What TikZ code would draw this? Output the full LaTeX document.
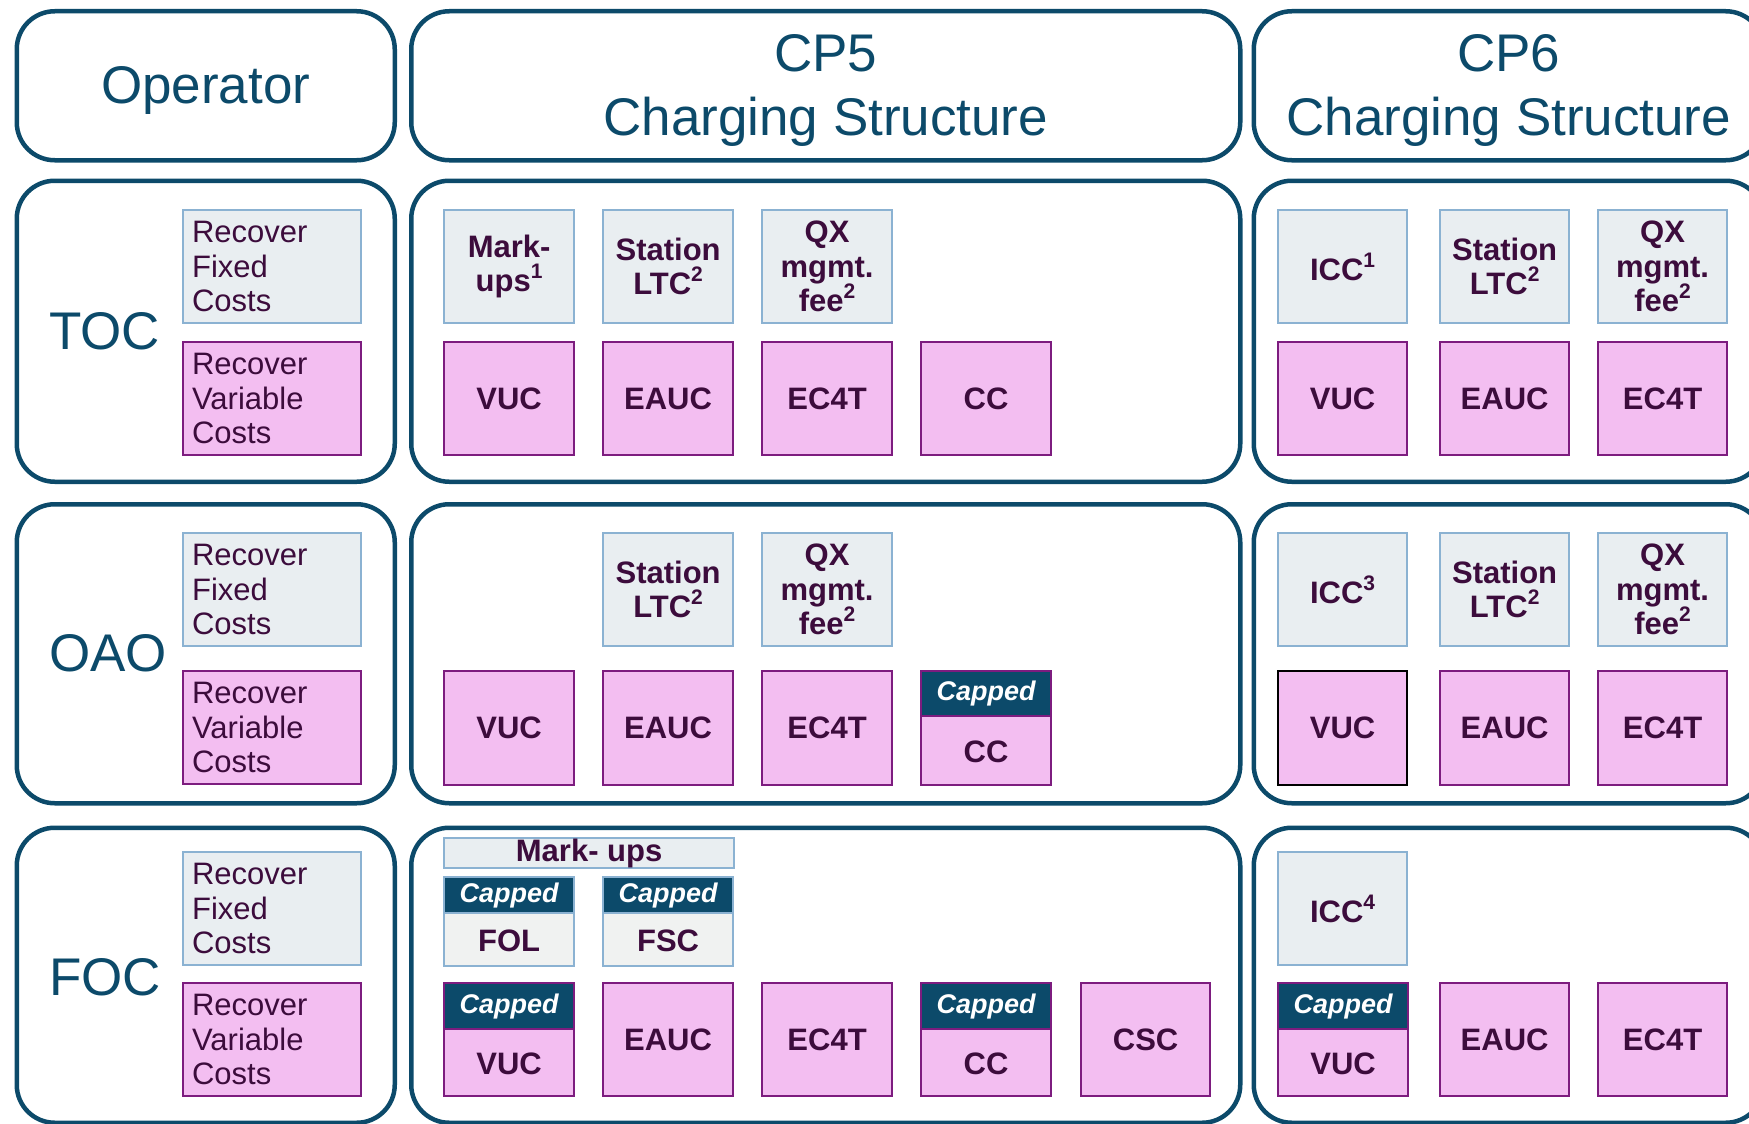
\documentclass[tikz,border=0pt]{standalone}
\usepackage{fontspec}
\setmainfont{Liberation Sans}
\usetikzlibrary{calc}
\definecolor{cteal}{HTML}{0C4A6A}
\definecolor{gfill}{HTML}{E9EEF1}
\definecolor{gline}{HTML}{8BB2D2}
\definecolor{ffill}{HTML}{F0F2F1}
\definecolor{pfill}{HTML}{F3BEF1}
\definecolor{pline}{HTML}{7D1C7F}
\definecolor{ptext}{HTML}{3C0C3C}
\newcommand\hdfont{\fontsize{53}{64}\selectfont}
\newcommand\lblfont{\fontsize{31}{34.6}\selectfont\bfseries}
\newcommand\rcfont{\fontsize{31}{34.6}\selectfont}
\newcommand\capfont{\fontsize{27}{30}\selectfont\bfseries\itshape}
\newcommand\sups[1]{\raisebox{0.42em}{\fontsize{21}{21}\selectfont\bfseries #1}}
\tikzset{
  container/.style 2 args={draw=cteal, line width=4.5pt, rounded corners=38pt, fill=white,
    anchor=north west, inner sep=0pt, minimum width=#1, minimum height=#2},
  hdtext/.style={inner sep=0pt, font=\hdfont, text=cteal, align=center},
  rowlabel/.style={anchor=west, inner sep=0pt, font=\hdfont, text=cteal},
  gbox/.style 2 args={draw=gline, fill=gfill, line width=2.2pt, anchor=north west, inner sep=0pt,
    minimum width=#1, minimum height=#2, align=center, font=\lblfont, text=ptext},
  pbox/.style 2 args={draw=pline, fill=pfill, line width=2.2pt, anchor=north west, inner sep=0pt,
    minimum width=#1, minimum height=#2, align=center, font=\lblfont, text=ptext},
  rfix/.style={draw=gline, fill=gfill, line width=2.2pt, anchor=north west, inner ysep=0pt,
    inner xsep=9pt, text width=160pt, minimum height=113pt, align=left, font=\rcfont, text=ptext},
  rvar/.style={draw=pline, fill=pfill, line width=2.2pt, anchor=north west, inner ysep=0pt,
    inner xsep=9pt, text width=160pt, minimum height=113pt, align=left, font=\rcfont, text=ptext},
  caphead/.style 2 args={draw=#2, fill=cteal, line width=2.2pt, anchor=north west, inner sep=0pt,
    minimum width=130pt, minimum height=#1, font=\capfont, text=white},
  lbl/.style={font=\lblfont, text=ptext, inner sep=0pt, align=center},
}
\begin{document}
\begin{tikzpicture}[x=1pt,y=-1pt]
\useasboundingbox (0,0) rectangle (1749,1124);
\clip (0,0) rectangle (1749,1124);
\fill[white] (0,0) rectangle (1749,1124);

% headers
\node[container={378pt}{149pt}] (hop) at (14.5,9) {};
\node[container={829pt}{149pt}] (hcp5) at (409,9) {};
\node[container={510pt}{149pt}] (hcp6) at (1251.5,9) {};
\node[hdtext] (hoptx) at ([yshift=-5pt]hop.center) {Operator};
\node[hdtext] (hcp5tx) at ([yshift=-5pt]hcp5.center) {CP5\\Charging Structure};
\node[hdtext] (hcp6tx) at ([yshift=-5pt]hcp6.center) {CP6\\Charging Structure};

% row containers
\node[container={378pt}{301pt}] (r1op) at (14.5,178.5) {};
\node[container={829pt}{301pt}] (r1cp5) at (409,178.5) {};
\node[container={510pt}{301pt}] (r1cp6) at (1251.5,178.5) {};
\node[container={378pt}{299pt}] (r2op) at (14.5,502) {};
\node[container={829pt}{299pt}] (r2cp5) at (409,502) {};
\node[container={510pt}{299pt}] (r2cp6) at (1251.5,502) {};
\node[container={378pt}{295pt}] (r3op) at (14.5,825.5) {};
\node[container={829pt}{295pt}] (r3cp5) at (409,825.5) {};
\node[container={510pt}{295pt}] (r3cp6) at (1251.5,825.5) {};

% row labels
\node[rowlabel] (ltoc) at (49,331) {TOC};
\node[rowlabel] (loao) at (49,653) {OAO};
\node[rowlabel] (lfoc) at (49,977) {FOC};

% left column
\node[rfix] (f1) at (182,209) {Recover\\Fixed\\Costs};
\node[rvar] (v1) at (182,341) {Recover\\Variable\\Costs};
\node[rfix] (f2) at (182,532) {Recover\\Fixed\\Costs};
\node[rvar] (v2) at (182,670) {Recover\\Variable\\Costs};
\node[rfix] (f3) at (182,851) {Recover\\Fixed\\Costs};
\node[rvar] (v3) at (182,982) {Recover\\Variable\\Costs};

% ---- TOC row
\node[gbox={130pt}{113pt}] (a1) at (443,209) {Mark-\\ups\sups{1}};
\node[gbox={130pt}{113pt}] (a2) at (602,209) {Station\\LTC\sups{2}};
\node[gbox={130pt}{113pt}] (a3) at (761,209) {QX\\mgmt.\\fee\sups{2}};
\node[pbox={130pt}{113pt}] (a4) at (443,341) {VUC};
\node[pbox={130pt}{113pt}] (a5) at (602,341) {EAUC};
\node[pbox={130pt}{113pt}] (a6) at (761,341) {EC4T};
\node[pbox={130pt}{113pt}] (a7) at (920,341) {CC};
\node[gbox={129pt}{113pt}] (b1) at (1277,209) {ICC\sups{1}};
\node[gbox={129pt}{113pt}] (b2) at (1439,209) {Station\\LTC\sups{2}};
\node[gbox={129pt}{113pt}] (b3) at (1597,209) {QX\\mgmt.\\fee\sups{2}};
\node[pbox={129pt}{113pt}] (b4) at (1277,341) {VUC};
\node[pbox={129pt}{113pt}] (b5) at (1439,341) {EAUC};
\node[pbox={129pt}{113pt}] (b6) at (1597,341) {EC4T};

% ---- OAO row
\node[gbox={130pt}{113pt}] (c2) at (602,532) {Station\\LTC\sups{2}};
\node[gbox={130pt}{113pt}] (c3) at (761,532) {QX\\mgmt.\\fee\sups{2}};
\node[pbox={130pt}{114pt}] (c4) at (443,670) {VUC};
\node[pbox={130pt}{114pt}] (c5) at (602,670) {EAUC};
\node[pbox={130pt}{114pt}] (c6) at (761,670) {EC4T};
\node[pbox={130pt}{114pt}] (c7) at (920,670) {};
\node[caphead={45pt}{pline}] (c7h) at (c7.north west) {Capped};
\node[lbl] (c7t) at ($(c7h.south)!0.5!(c7.south)$) {CC};
\node[gbox={129pt}{113pt}] (d1) at (1277,532) {ICC\sups{3}};
\node[gbox={129pt}{113pt}] (d2) at (1439,532) {Station\\LTC\sups{2}};
\node[gbox={129pt}{113pt}] (d3) at (1597,532) {QX\\mgmt.\\fee\sups{2}};
\node[pbox={129pt}{114pt}, draw=black] (d4) at (1277,670) {VUC};
\node[pbox={129pt}{114pt}] (d5) at (1439,670) {EAUC};
\node[pbox={129pt}{114pt}] (d6) at (1597,670) {EC4T};

% ---- FOC row
\node[gbox={290pt}{30pt}] (mu) at (443,837) {Mark- ups};
\node[gbox={130pt}{89pt}, fill=ffill] (fol) at (443,876) {};
\node[caphead={36pt}{gline}] (folh) at (fol.north west) {Capped};
\node[lbl] (folt) at ($(folh.south)!0.5!(fol.south)$) {FOL};
\node[gbox={130pt}{89pt}, fill=ffill] (fsc) at (602,876) {};
\node[caphead={36pt}{gline}] (fsch) at (fsc.north west) {Capped};
\node[lbl] (fsct) at ($(fsch.south)!0.5!(fsc.south)$) {FSC};
\node[pbox={130pt}{113pt}] (e1) at (443,982) {};
\node[caphead={46pt}{pline}] (e1h) at (e1.north west) {Capped};
\node[lbl] (e1t) at ($(e1h.south)!0.5!(e1.south)$) {VUC};
\node[pbox={130pt}{113pt}] (e2) at (602,982) {EAUC};
\node[pbox={130pt}{113pt}] (e3) at (761,982) {EC4T};
\node[pbox={130pt}{113pt}] (e4) at (920,982) {};
\node[caphead={46pt}{pline}] (e4h) at (e4.north west) {Capped};
\node[lbl] (e4t) at ($(e4h.south)!0.5!(e4.south)$) {CC};
\node[pbox={129pt}{113pt}] (e5) at (1080,982) {CSC};
\node[gbox={129pt}{113pt}] (g1) at (1277,851) {ICC\sups{4}};
\node[pbox={130pt}{113pt}] (g2) at (1277,982) {};
\node[caphead={46pt}{pline}] (g2h) at (g2.north west) {Capped};
\node[lbl] (g2t) at ($(g2h.south)!0.5!(g2.south)$) {VUC};
\node[pbox={129pt}{113pt}] (g3) at (1439,982) {EAUC};
\node[pbox={129pt}{113pt}] (g4) at (1597,982) {EC4T};
\end{tikzpicture}
\end{document}
